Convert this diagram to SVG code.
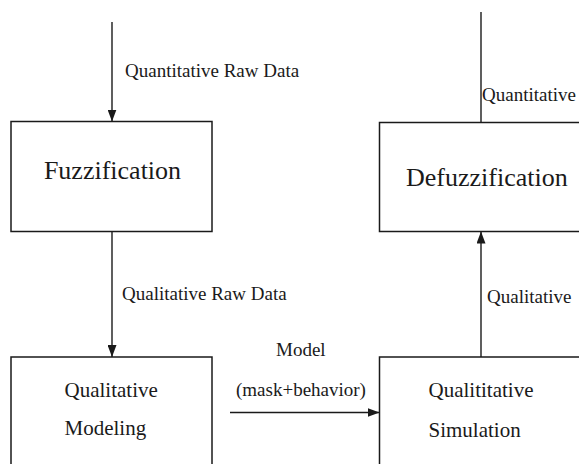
<svg xmlns="http://www.w3.org/2000/svg" width="579" height="464" viewBox="0 0 579 464">
  <style>
    .box { fill: #ffffff; stroke: #1a1a1a; stroke-width: 1.5; }
    .edge { fill: none; stroke: #1a1a1a; stroke-width: 1.4; }
    text { font-family: "Liberation Serif", "Times New Roman", serif; fill: #1a1a1a; }
    .title { font-size: 26px; }
    .name { font-size: 21px; }
    .label { font-size: 19px; }
  </style>
  <defs>
    <marker id="arrow" markerUnits="userSpaceOnUse" markerWidth="12" markerHeight="9" refX="12" refY="4.5" orient="auto">
      <path d="M0,0 L12,4.5 L0,9 Z" fill="#1a1a1a"/>
    </marker>
  </defs>
  <rect width="579" height="464" fill="#ffffff"/>

  <!-- processing blocks -->
  <g id="fuzzification">
    <rect class="box" x="11" y="121.5" width="201" height="110"/>
    <text class="title" x="112.5" y="179" text-anchor="middle">Fuzzification</text>
  </g>
  <g id="qualitative-modeling">
    <rect class="box" x="11" y="357" width="201" height="130"/>
    <text class="name" x="64.5" y="396.5">Qualitative</text>
    <text class="name" x="64.5" y="435">Modeling</text>
  </g>
  <g id="qualitative-simulation">
    <rect class="box" x="379.5" y="357" width="230" height="130"/>
    <text class="name" x="428.5" y="396.5">Qualititative</text>
    <text class="name" x="428.5" y="436.5">Simulation</text>
  </g>
  <g id="defuzzification">
    <rect class="box" x="379.5" y="122.5" width="230" height="109"/>
    <text class="title" x="406" y="186">Defuzzification</text>
  </g>

  <!-- data flow -->
  <g id="connectors">
    <line class="edge" x1="112" y1="22" x2="112" y2="121.5" marker-end="url(#arrow)"/>
    <line class="edge" x1="112" y1="231.5" x2="112" y2="357" marker-end="url(#arrow)"/>
    <line class="edge" x1="230" y1="412.5" x2="379.5" y2="412.5" marker-end="url(#arrow)"/>
    <line class="edge" x1="481" y1="357" x2="481" y2="231.5" marker-end="url(#arrow)"/>
    <line class="edge" x1="481" y1="122.5" x2="481" y2="12"/>

    <text class="label" x="125" y="77">Quantitative Raw Data</text>
    <text class="label" x="122" y="300">Qualitative Raw Data</text>
    <text class="label" x="276" y="356">Model</text>
    <text class="label" x="236" y="395.5">(mask+behavior)</text>
    <text class="label" x="487" y="303">Qualitative</text>
    <text class="label" x="482" y="101">Quantitative</text>
  </g>
</svg>
